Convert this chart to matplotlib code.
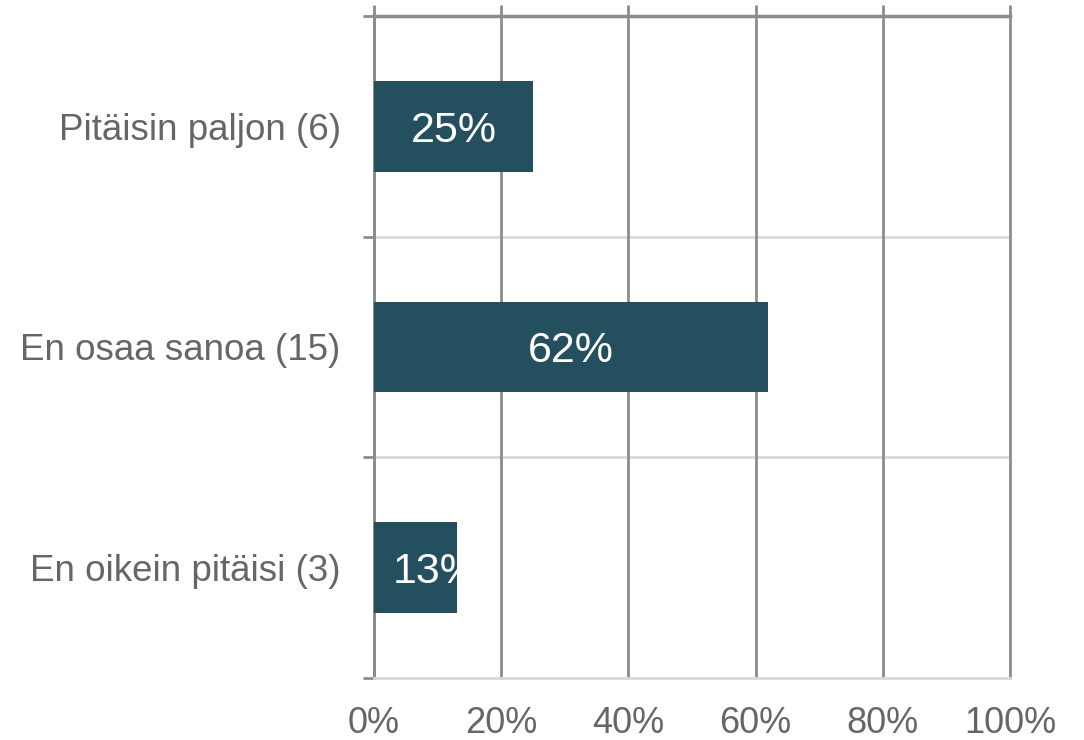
import matplotlib.pyplot as plt
from matplotlib.ticker import FixedLocator

plt.rcParams['font.family'] = ['Liberation Sans', 'DejaVu Sans']

# data
categories = ['Pitäisin paljon (6)', 'En osaa sanoa (15)', 'En oikein pitäisi (3)']
values = [25, 62, 13]
xticks = [0, 20, 40, 60, 80, 100]

bar_color = '#244F5E'
grid_dark = '#8C8C8C'
grid_light = '#D9D9D9'
text_gray = '#666666'

fig = plt.figure(figsize=(10.84, 7.4), dpi=100)
ax = fig.add_axes([0.345, 0.0838, 0.5867, 0.8946])

ypos = list(range(len(categories)))
bars = ax.barh(ypos, values, height=0.41, color=bar_color, zorder=3)

# bar labels, clipped to the bar like the original
for b, v in zip(bars, values):
    y = b.get_y() + b.get_height() / 2
    if v >= 20:
        t = ax.text(v / 2, y, f'{v}%', ha='center', va='center_baseline',
                    color='white', fontsize=31, zorder=4)
    else:
        t = ax.text(3, y, f'{v}%', ha='left', va='center_baseline',
                    color='white', fontsize=31, zorder=4)
    t.set_clip_path(b)

ax.set_xlim(0, 100)
ax.set_ylim(len(categories) - 0.5, -0.5)

ax.set_xticks(xticks)
ax.set_xticklabels([f'{x}%' for x in xticks])
ax.set_yticks(ypos)
ax.set_yticklabels(categories)
ax.yaxis.set_minor_locator(FixedLocator([-0.5, 0.5, 1.5, 2.5]))

ax.tick_params(axis='y', which='major', length=0, pad=24, labelsize=26.5, labelcolor=text_gray)
ax.tick_params(axis='y', which='minor', length=8, width=2, color=grid_dark, direction='out')
ax.tick_params(axis='x', which='major', bottom=False, top=True, labeltop=False,
               length=8, width=2, color=grid_dark, pad=12, labelsize=26,
               labelcolor=text_gray)

# vertical gridlines
ax.grid(axis='x', color=grid_dark, linewidth=2, zorder=1)
for gl in ax.get_xgridlines():
    gl.set_clip_on(False)
# category separators
for yb in [0.5, 1.5]:
    ax.axhline(yb, color=grid_light, linewidth=2, zorder=0)

ax.spines['right'].set_visible(False)
ax.spines['top'].set_color(grid_dark)
ax.spines['top'].set_linewidth(2.5)
ax.spines['left'].set_color(grid_dark)
ax.spines['left'].set_linewidth(2)
ax.spines['bottom'].set_color(grid_light)
ax.spines['bottom'].set_linewidth(2)

fig.savefig('out.png', dpi=100)
